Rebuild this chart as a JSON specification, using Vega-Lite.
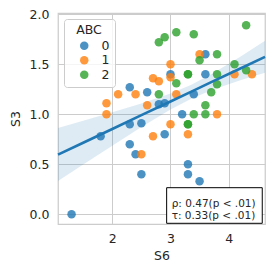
{
  "$schema": "https://vega.github.io/schema/vega-lite/v6.json",
  "width": 207,
  "height": 211,
  "autosize": "none",
  "padding": {"left": 58, "top": 13, "right": 10, "bottom": 50},
  "background": "white",
  "config": {
    "view": {"stroke": "#cccccc", "strokeWidth": 1.25},
    "font": "DejaVu Sans",
    "axis": {
      "labelFont": "DejaVu Sans", "labelFontSize": 12.5, "labelColor": "#262626",
      "titleFont": "DejaVu Sans", "titleFontSize": 12.5, "titleFontWeight": "normal", "titleColor": "#262626",
      "domain": false, "ticks": false, "tickSize": 0, "gridColor": "#cccccc", "gridWidth": 1
    },
    "legend": {
      "orient": "top-left", "offset": 6,
      "strokeColor": "#cccccc", "fillColor": "rgba(255,255,255,0.8)", "cornerRadius": 3, "padding": 5,
      "titleFont": "DejaVu Sans", "titleFontSize": 12.5, "titleFontWeight": "normal", "titleColor": "#262626",
      "labelFont": "DejaVu Sans", "labelFontSize": 12.5, "labelColor": "#262626",
      "symbolSize": 72, "symbolType": "circle", "symbolOpacity": 0.8, "symbolStrokeWidth": 0,
      "titleAnchor": "middle", "rowPadding": 1.5, "titlePadding": 3, "labelOffset": 11, "symbolOffset": 9
    }
  },
  "datasets": {
    "points": [
      {"S6": 1.3, "S3": 0.0, "ABC": "0"},
      {"S6": 1.8, "S3": 0.78, "ABC": "0"},
      {"S6": 2.3, "S3": 1.27, "ABC": "0"},
      {"S6": 2.3, "S3": 0.9, "ABC": "0"},
      {"S6": 2.3, "S3": 0.7, "ABC": "0"},
      {"S6": 2.4, "S3": 0.6, "ABC": "0"},
      {"S6": 2.5, "S3": 0.91, "ABC": "0"},
      {"S6": 2.5, "S3": 0.4, "ABC": "0"},
      {"S6": 2.6, "S3": 1.22, "ABC": "0"},
      {"S6": 2.8, "S3": 1.1, "ABC": "0"},
      {"S6": 2.9, "S3": 1.11, "ABC": "0"},
      {"S6": 2.9, "S3": 0.8, "ABC": "0"},
      {"S6": 3.0, "S3": 1.4, "ABC": "0"},
      {"S6": 3.2, "S3": 1.0, "ABC": "0"},
      {"S6": 3.3, "S3": 0.5, "ABC": "0"},
      {"S6": 3.3, "S3": 0.4, "ABC": "0"},
      {"S6": 3.4, "S3": 1.2, "ABC": "0"},
      {"S6": 3.5, "S3": 0.33, "ABC": "0"},
      {"S6": 3.6, "S3": 1.6, "ABC": "0"},
      {"S6": 3.6, "S3": 1.4, "ABC": "0"},
      {"S6": 1.9, "S3": 1.11, "ABC": "1"},
      {"S6": 1.9, "S3": 1.0, "ABC": "1"},
      {"S6": 2.1, "S3": 1.2, "ABC": "1"},
      {"S6": 2.4, "S3": 1.2, "ABC": "1"},
      {"S6": 2.5, "S3": 0.6, "ABC": "1"},
      {"S6": 2.6, "S3": 1.09, "ABC": "1"},
      {"S6": 2.7, "S3": 1.36, "ABC": "1"},
      {"S6": 2.7, "S3": 0.78, "ABC": "1"},
      {"S6": 2.8, "S3": 1.33, "ABC": "1"},
      {"S6": 3.0, "S3": 1.5, "ABC": "1"},
      {"S6": 3.0, "S3": 1.37, "ABC": "1"},
      {"S6": 3.0, "S3": 0.9, "ABC": "1"},
      {"S6": 3.1, "S3": 1.2, "ABC": "1"},
      {"S6": 3.3, "S3": 0.8, "ABC": "1"},
      {"S6": 3.5, "S3": 1.6, "ABC": "1"},
      {"S6": 3.8, "S3": 1.0, "ABC": "1"},
      {"S6": 4.1, "S3": 1.4, "ABC": "1"},
      {"S6": 4.4, "S3": 1.4, "ABC": "1"},
      {"S6": 2.8, "S3": 1.72, "ABC": "2"},
      {"S6": 2.9, "S3": 1.77, "ABC": "2"},
      {"S6": 3.1, "S3": 1.82, "ABC": "2"},
      {"S6": 3.4, "S3": 1.8, "ABC": "2"},
      {"S6": 4.3, "S3": 1.89, "ABC": "2"},
      {"S6": 3.8, "S3": 1.6, "ABC": "2"},
      {"S6": 3.5, "S3": 1.54, "ABC": "2"},
      {"S6": 3.3, "S3": 1.4, "ABC": "2"},
      {"S6": 3.3, "S3": 1.4, "ABC": "2"},
      {"S6": 3.8, "S3": 1.4, "ABC": "2"},
      {"S6": 4.1, "S3": 1.5, "ABC": "2"},
      {"S6": 4.3, "S3": 1.44, "ABC": "2"},
      {"S6": 3.1, "S3": 1.31, "ABC": "2"},
      {"S6": 2.8, "S3": 1.2, "ABC": "2"},
      {"S6": 3.7, "S3": 1.22, "ABC": "2"},
      {"S6": 3.8, "S3": 1.3, "ABC": "2"},
      {"S6": 3.6, "S3": 1.09, "ABC": "2"},
      {"S6": 3.4, "S3": 1.0, "ABC": "2"},
      {"S6": 3.6, "S3": 1.0, "ABC": "2"},
      {"S6": 3.3, "S3": 0.9, "ABC": "2"},
      {"S6": 3.3, "S3": 0.9, "ABC": "2"}
    ],
    "band": [
      {"S6": 1.067, "lo": 0.332, "hi": 0.862, "fit": 0.597},
      {"S6": 1.5, "lo": 0.497, "hi": 0.935, "fit": 0.716},
      {"S6": 2.0, "lo": 0.686, "hi": 1.02, "fit": 0.853},
      {"S6": 2.5, "lo": 0.873, "hi": 1.109, "fit": 0.991},
      {"S6": 3.0, "lo": 1.048, "hi": 1.208, "fit": 1.128},
      {"S6": 3.35, "lo": 1.154, "hi": 1.294, "fit": 1.224},
      {"S6": 3.7, "lo": 1.241, "hi": 1.401, "fit": 1.321},
      {"S6": 4.2, "lo": 1.34, "hi": 1.576, "fit": 1.458},
      {"S6": 4.624, "lo": 1.415, "hi": 1.735, "fit": 1.575}
    ]
  },
  "layer": [
    {
      "data": {"name": "band"},
      "mark": {"type": "area", "color": "#1f77b4", "opacity": 0.15},
      "encoding": {
        "x": {"field": "S6", "type": "quantitative", "title": "S6",
              "scale": {"domain": [1.067, 4.624], "nice": false, "zero": false},
              "axis": {"values": [2, 3, 4], "format": "d", "labelPadding": 8, "titlePadding": 5, "grid": true}},
        "y": {"field": "lo", "type": "quantitative", "title": "S3",
              "scale": {"domain": [-0.097, 2.013], "nice": false, "zero": false},
              "axis": {"values": [0, 0.5, 1, 1.5, 2], "format": ".1f", "labelPadding": 9, "titlePadding": 7, "grid": true}},
        "y2": {"field": "hi"}
      }
    },
    {
      "data": {"name": "points"},
      "mark": {"type": "circle", "size": 72, "opacity": 0.8, "strokeWidth": 0},
      "encoding": {
        "x": {"field": "S6", "type": "quantitative", "title": "S6"},
        "y": {"field": "S3", "type": "quantitative", "title": "S3"},
        "color": {"field": "ABC", "type": "nominal", "title": "ABC",
                  "scale": {"domain": ["0", "1", "2"], "range": ["#1f77b4", "#ff7f0e", "#2ca02c"]}}
      }
    },
    {
      "data": {"name": "band"},
      "mark": {"type": "line", "color": "#1f77b4", "strokeWidth": 2.6},
      "encoding": {
        "x": {"field": "S6", "type": "quantitative", "title": "S6"},
        "y": {"field": "fit", "type": "quantitative", "title": "S3"}
      }
    },
    {
      "data": {"values": [{}]},
      "mark": {"type": "rect", "fill": "white", "stroke": "black", "strokeWidth": 1},
      "encoding": {
        "x": {"datum": 2.934, "type": "quantitative", "title": "S6"},
        "x2": {"datum": 4.577},
        "y": {"datum": -0.09, "type": "quantitative", "title": "S3"},
        "y2": {"datum": 0.266}
      }
    },
    {
      "data": {"values": [{}]},
      "mark": {"type": "text", "align": "left", "baseline": "middle", "font": "DejaVu Sans", "fontSize": 10.5, "lineHeight": 12, "color": "#262626"},
      "encoding": {
        "x": {"datum": 3.02, "type": "quantitative", "title": "S6"},
        "y": {"datum": 0.1, "type": "quantitative", "title": "S3"},
        "text": {"value": ["ρ: 0.47(p < .01)", "τ: 0.33(p < .01)"]}
      }
    }
  ]
}
